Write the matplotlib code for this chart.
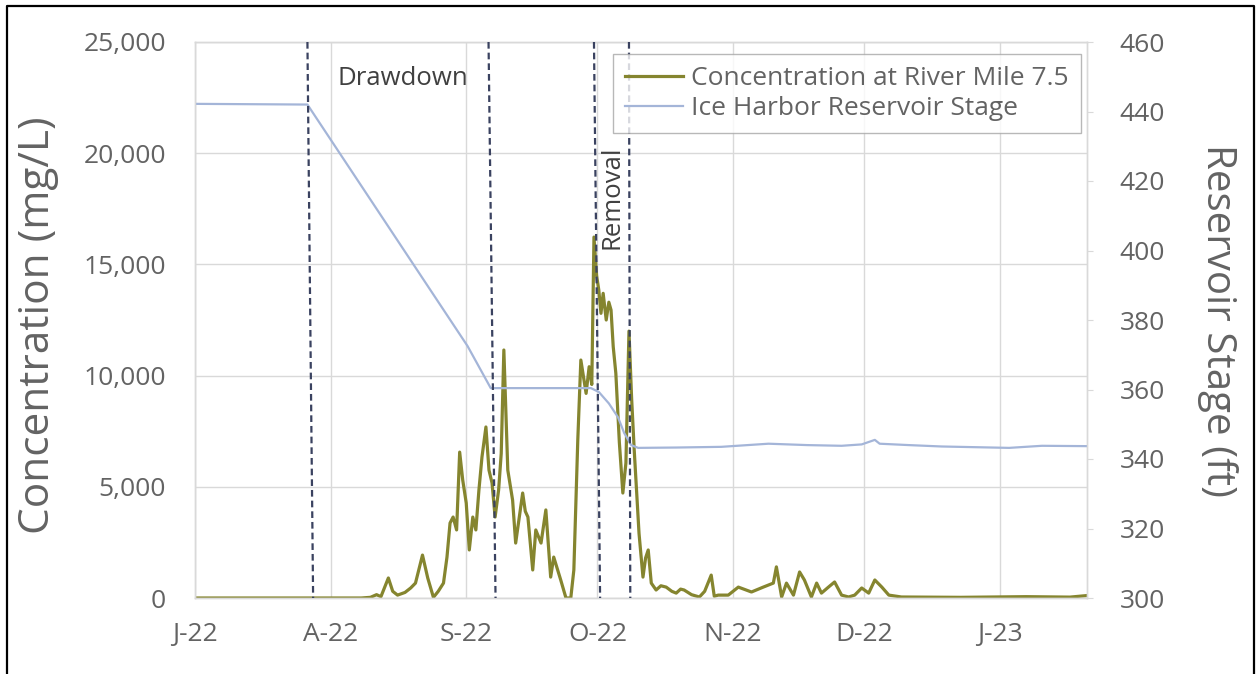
import matplotlib
matplotlib.use("Agg")
import matplotlib.pyplot as plt
import matplotlib.dates as mdates
from matplotlib.lines import Line2D
from matplotlib.ticker import FuncFormatter, MultipleLocator
import pandas as pd

plt.rcParams['font.family'] = ['Open Sans', 'DejaVu Sans']

start = pd.Timestamp('2022-07-01')

# Concentration at River Mile 7.5 (days after 1 Jul 2022, mg/L)
conc_day = [0, 38, 40.1, 41.5, 42.5, 44.2, 45.2, 46.3, 48.0, 49.3, 50.4, 52.0, 53.2,
            54.5, 55.6, 56.8, 57.6, 58.3, 59.0, 59.8, 60.5, 61.2, 62.0, 62.7, 63.5,
            64.2, 64.9, 65.6, 66.5, 67.2, 67.9, 68.6, 69.4, 70.0, 70.6, 71.5, 72.6,
            73.3, 74.9, 75.5, 76.1, 77.2, 77.9, 79.1, 80.2, 81.3, 82.0, 83.6, 84.8,
            85.9, 86.6, 87.5, 88.2, 89.4, 90.1, 90.7, 91.2, 91.8, 92.3, 92.8, 93.3,
            94.0, 94.6, 95.1, 95.6, 96.2, 97.0, 97.8, 98.5, 99.2, 99.8, 100.4, 101.5,
            102.4, 103.0, 103.6, 104.3, 105.4, 106.5, 107.7, 109.0, 110.0, 111.0,
            111.8, 113.5, 115.3, 116.5, 118.0, 118.7, 119.6, 121.9, 124.2, 127.2,
            129.9, 132.2, 132.9, 134.1, 135.2, 136.8, 138.2, 139.3, 140.9, 142.1,
            143.2, 144.8, 146.2, 147.8, 149.4, 150.8, 152.4, 154.0, 155.4, 157.0,
            158.6, 161.5, 175, 190, 200, 203.9]
conc_val = [0, 0, 30, 150, 60, 900, 300, 130, 250, 450, 670, 1930, 900,
            30, 300, 670, 1840, 3370, 3640, 3060, 6560, 5300, 4270, 2160, 3640,
            3060, 4850, 6340, 7690, 5750, 5170, 3640, 4850, 6500, 11150, 5750, 4400,
            2470, 4720, 3900, 3640, 1260, 3060, 2470, 3960, 940, 1840, 810, 0,
            0, 1260, 7100, 10700, 9200, 10400, 9600, 16230, 14500, 13850, 12800, 13700,
            12500, 13300, 12950, 11300, 10100, 7000, 4720, 6070, 12000, 9000, 6650, 2900,
            940, 1800, 2160, 670, 360, 550, 490, 300, 220, 400,
            360, 150, 45, 300, 1030, 80, 130, 130, 490, 270,
            490, 670, 1400, 45, 670, 130, 1170, 810, 45, 670,
            220, 490, 720, 130, 45, 130, 450, 220, 810, 490,
            130, 45, 30, 60, 40, 110]

# Ice Harbor reservoir stage (days after 1 Jul 2022, ft)
stage_day = [0, 25.7, 62.3, 67.6, 90.5, 92.3, 94.6, 96.7, 98.1, 99.7, 101.3, 110,
             120.3, 131.1, 140, 147.8, 152.4, 155.4, 156.5, 163.2, 170.7, 186.1,
             193.6, 203.9]
stage_val = [442.2, 442.0, 372.5, 360.4, 360.4, 359.3, 356, 352, 347.5, 344, 343.2, 343.3,
             343.5, 344.4, 344.0, 343.8, 344.2, 345.5, 344.4, 344.0, 343.6, 343.2,
             343.8, 343.7]

# drawdown / removal markers (top and bottom ends, days after 1 Jul 2022)
event_top = [25.7, 67.1, 91.2, 99.2]
event_bot = [27.0, 68.7, 92.6, 99.5]

conc_dates = start + pd.to_timedelta(conc_day, unit='D')
stage_dates = start + pd.to_timedelta(stage_day, unit='D')

fig = plt.figure(figsize=(12.57, 6.74), dpi=100)
ax = fig.add_axes([195 / 1257, 1 - 598 / 674, 892 / 1257, 556 / 674])
ax2 = ax.twinx()

grid_c = '#D9D9D9'
text_c = '#636363'

ax.plot(conc_dates, conc_val, color='#85852F', lw=2.3, label='Concentration at River Mile 7.5')
ax2.plot(stage_dates, stage_val, color='#A4B5D8', lw=1.6, label='Ice Harbor Reservoir Stage')

for t, b in zip(event_top, event_bot):
    ax2.plot([start + pd.Timedelta(days=t), start + pd.Timedelta(days=b)], [1, 0],
             transform=ax2.get_xaxis_transform(), color='#3A4260', lw=1.6,
             ls=(0, (3, 1.8)), zorder=3)

ax.set_xlim(start, start + pd.Timedelta(days=203.9))
ax.set_ylim(0, 25000)
ax2.set_ylim(300, 460)

ax.xaxis.set_major_locator(mdates.MonthLocator())
ax.xaxis.set_major_formatter(FuncFormatter(
    lambda x, pos: mdates.num2date(x).strftime('%b')[0] + '-' + mdates.num2date(x).strftime('%y')))
ax.yaxis.set_major_locator(MultipleLocator(5000))
ax.yaxis.set_major_formatter(FuncFormatter(lambda v, pos: f'{v:,.0f}'))
ax2.yaxis.set_major_locator(MultipleLocator(20))

ax.grid(True, color=grid_c, lw=1)
ax.set_axisbelow(True)
for a in (ax, ax2):
    for s in a.spines.values():
        s.set_color(grid_c)
        s.set_linewidth(1)

ax.tick_params(axis='x', length=0, pad=17, labelsize=19, labelcolor=text_c)
ax.tick_params(axis='y', length=0, pad=21, labelsize=19, labelcolor=text_c)
ax2.tick_params(axis='y', length=4, color=grid_c, pad=19.5, labelsize=19, labelcolor=text_c)

ax.set_ylabel('Concentration (mg/L)', fontsize=30.5, color=text_c)
ax2.set_ylabel('Reservoir Stage (ft)', fontsize=29, color=text_c, rotation=270, va='bottom')
ax.yaxis.set_label_coords(-0.152, 0.49)
ax2.yaxis.set_label_coords(1.123, 0.5)

ax2.text(start + pd.Timedelta(days=47.5), 0.935, 'Drawdown', transform=ax2.get_xaxis_transform(),
         ha='center', va='center', fontsize=18.5, color='#404040')
ax2.text(start + pd.Timedelta(days=95.3), 0.72, 'Removal', transform=ax2.get_xaxis_transform(),
         ha='center', va='center', rotation=90, fontsize=18.5, color='#404040')

h1, l1 = ax.get_legend_handles_labels()
h2, l2 = ax2.get_legend_handles_labels()
leg = ax2.legend(h1 + h2, l1 + l2, loc='upper right', bbox_to_anchor=(0.993, 0.978),
                 borderaxespad=0, fontsize=19, frameon=True, fancybox=False,
                 handlelength=2.2, handletextpad=0.3, labelspacing=0.2, borderpad=0.45)
leg.get_frame().set_edgecolor('#A6A6A6')
leg.get_frame().set_linewidth(1)
for t in leg.get_texts():
    t.set_color(text_c)

# outer frame
fx0, fx1, fy1 = 7 / 1257, 1254 / 1257, 1 - 6 / 674
fig.add_artist(Line2D([fx0, fx0, fx1, fx1], [0, fy1, fy1, 0], transform=fig.transFigure,
                      color='black', lw=1.6))

fig.savefig('out.png', dpi=100)
